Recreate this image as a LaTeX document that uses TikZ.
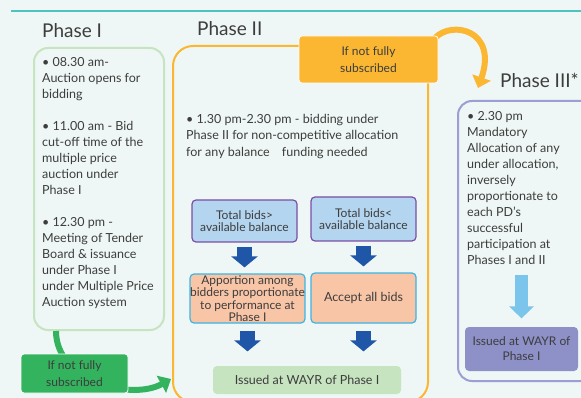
\documentclass[tikz,border=0pt]{standalone}
\usepackage{fontspec}
\setmainfont{Lato}
\usetikzlibrary{arrows.meta,positioning,calc}
\definecolor{bgcol}{HTML}{EEF7F5}
\definecolor{tealcol}{HTML}{4EC5BC}
\definecolor{txtcol}{HTML}{3D3D3D}
\definecolor{greenline}{HTML}{C6E4BF}
\definecolor{orangecol}{HTML}{FBB732}
\definecolor{greencol}{HTML}{33B35E}
\definecolor{bluefill}{HTML}{B4D5EF}
\definecolor{purpleline}{HTML}{7A4FA5}
\definecolor{salmonfill}{HTML}{F9C5A7}
\definecolor{cyanline}{HTML}{3BB4E5}
\definecolor{arrblue}{HTML}{1F56A8}
\definecolor{lavline}{HTML}{9B9FD4}
\definecolor{lavfill}{HTML}{8E90C8}
\definecolor{lightarr}{HTML}{7BC4EB}
\begin{document}
\begin{tikzpicture}[x=1pt,y=-1pt,
	every node/.style={text=txtcol,inner sep=0pt},
	phase/.style={font=\fontsize{19}{21}\selectfont,anchor=base west},
	body/.style={font=\fontsize{12.5}{16}\selectfont,align=left,anchor=north west},
	frame/.style={draw,line width=2pt,anchor=north west},
	ifbox/.style={rounded corners=3pt,draw=white,line width=0.8pt,align=center,font=\fontsize{12}{16.5}\selectfont},
	bidbox/.style={rounded corners=4pt,line width=1.2pt,align=center,font=\fontsize{12}{12.5}\selectfont},
	barrow/.style={draw=arrblue,line width=15pt,-{Triangle[width=26pt,length=11pt]}},
	curvearrow/.style={line width=6pt,-{Triangle[width=19pt,length=11pt]}}
	]
	% background and top rule
		\fill[bgcol] (0,0) rectangle (581,398);
		\useasboundingbox (0,0) rectangle (581,398);
		\draw[tealcol,line width=1.5pt] (11,11) -- (581,11);
	% phase titles
		\node[phase] (titleI) at (42,38) {Phase I};
		\node[phase] (titleII) at (197,36) {Phase II};
		\node[phase] (titleIII) at (500,88) {Phase III*};
	% frames
		\node[frame,draw=greenline,rounded corners=14pt,minimum width=130pt,minimum height=282pt] (boxI) at (33,47) {};
		\node[frame,draw=orangecol,rounded corners=20pt,minimum width=255pt,minimum height=356pt] (boxII) at (172,45) {};
		\node[frame,draw=lavline,rounded corners=14pt,minimum width=140pt,minimum height=280pt] (boxIII) at (457,100) {};
	% phase I
		\node[body] (textI) at (42,57) {%
			• 08.30 am-\\ Auction opens for\\ bidding\\[16pt]
			• 11.00 am - Bid\\ cut-off time of the\\ multiple price\\ auction under\\ Phase I\\[16pt]
			• 12.30 pm -\\ Meeting of Tender\\ Board \& issuance\\ under Phase I\\ under Multiple Price\\ Auction system};
		\coordinate (tipII) at (171,379);
		\draw[curvearrow,greencol] ([xshift=23pt]boxI.south west) .. controls +(0,50) and +(-40,22) .. (tipII);
		\node[ifbox,fill=greencol,minimum width=107pt,minimum height=39pt] (ifI) at (74.5,373.5) {If not fully\\ subscribed};
	% phase II
		\coordinate (tipIII) at (478,88);
		\draw[curvearrow,orangecol] (435,38) .. controls (452,20) and (498,30) .. (tipIII);
		\node[ifbox,fill=orangecol,minimum width=139pt,minimum height=47pt] (ifII) at (368.5,59.5) {If not fully\\ subscribed};
		\node[body,font=\fontsize{12.5}{16.5}\selectfont] (textII) at (186,114) {%
			• 1.30 pm-2.30 pm - bidding under\\
			Phase II for non-competitive allocation\\
			for any balance\hspace{9pt} funding needed};
		\node[bidbox,draw=purpleline,fill=bluefill,minimum width=105pt,minimum height=42pt] (gt) at (244.5,221) {Total bids>\\ available balance};
		\node[bidbox,draw=purpleline,fill=bluefill,minimum width=105pt,minimum height=44pt] (lt) at (363.5,219) {Total bids<\\ available balance};
		\node[bidbox,draw=cyanline,fill=salmonfill,minimum width=111pt,minimum height=49pt] (ap) at (247.5,298.5) {Apportion among\\ bidders proportionate\\ to performance at\\ Phase I};
		\node[bidbox,draw=cyanline,fill=salmonfill,font=\fontsize{12.5}{13}\selectfont,minimum width=105pt,minimum height=50pt] (acc) at (363.5,298) {Accept all bids};
		\node[bidbox,fill=greenline,font=\fontsize{12.5}{13}\selectfont,minimum width=188pt,minimum height=28pt] (wayr) at (307,380) {Issued at WAYR of Phase I};
		\draw[barrow] ([yshift=-4pt]gt.south) -- ([yshift=6pt]gt.south |- ap.north);
		\draw[barrow] ([yshift=-4pt]lt.south) -- ([yshift=6pt]lt.south |- acc.north);
		\foreach \b in {ap,acc}{
			\draw[barrow] ([yshift=-7pt]\b.south) -- ($(\b.south |- wayr.north)+(0,-14)$);
			}
	% phase III
		\node[body] (textIII) at (467,111) {%
			• 2.30 pm\\ Mandatory\\ Allocation of any\\ under allocation,\\ inversely\\ proportionate to\\ each PD’s\\ successful\\ participation at\\ Phases I and II};
		\node[bidbox,fill=lavfill,font=\fontsize{12}{15}\selectfont,minimum width=113pt,minimum height=44pt] (wayrIII) at (521.5,349) {Issued at WAYR of\\ Phase I};
		\draw[draw=lightarr,line width=13pt,-{Triangle[width=24pt,length=12pt]}] (wayrIII.north |- textIII.south) ++(0,10) -- ($(wayrIII.north)+(0,-8)$);
\end{tikzpicture}
\end{document}
